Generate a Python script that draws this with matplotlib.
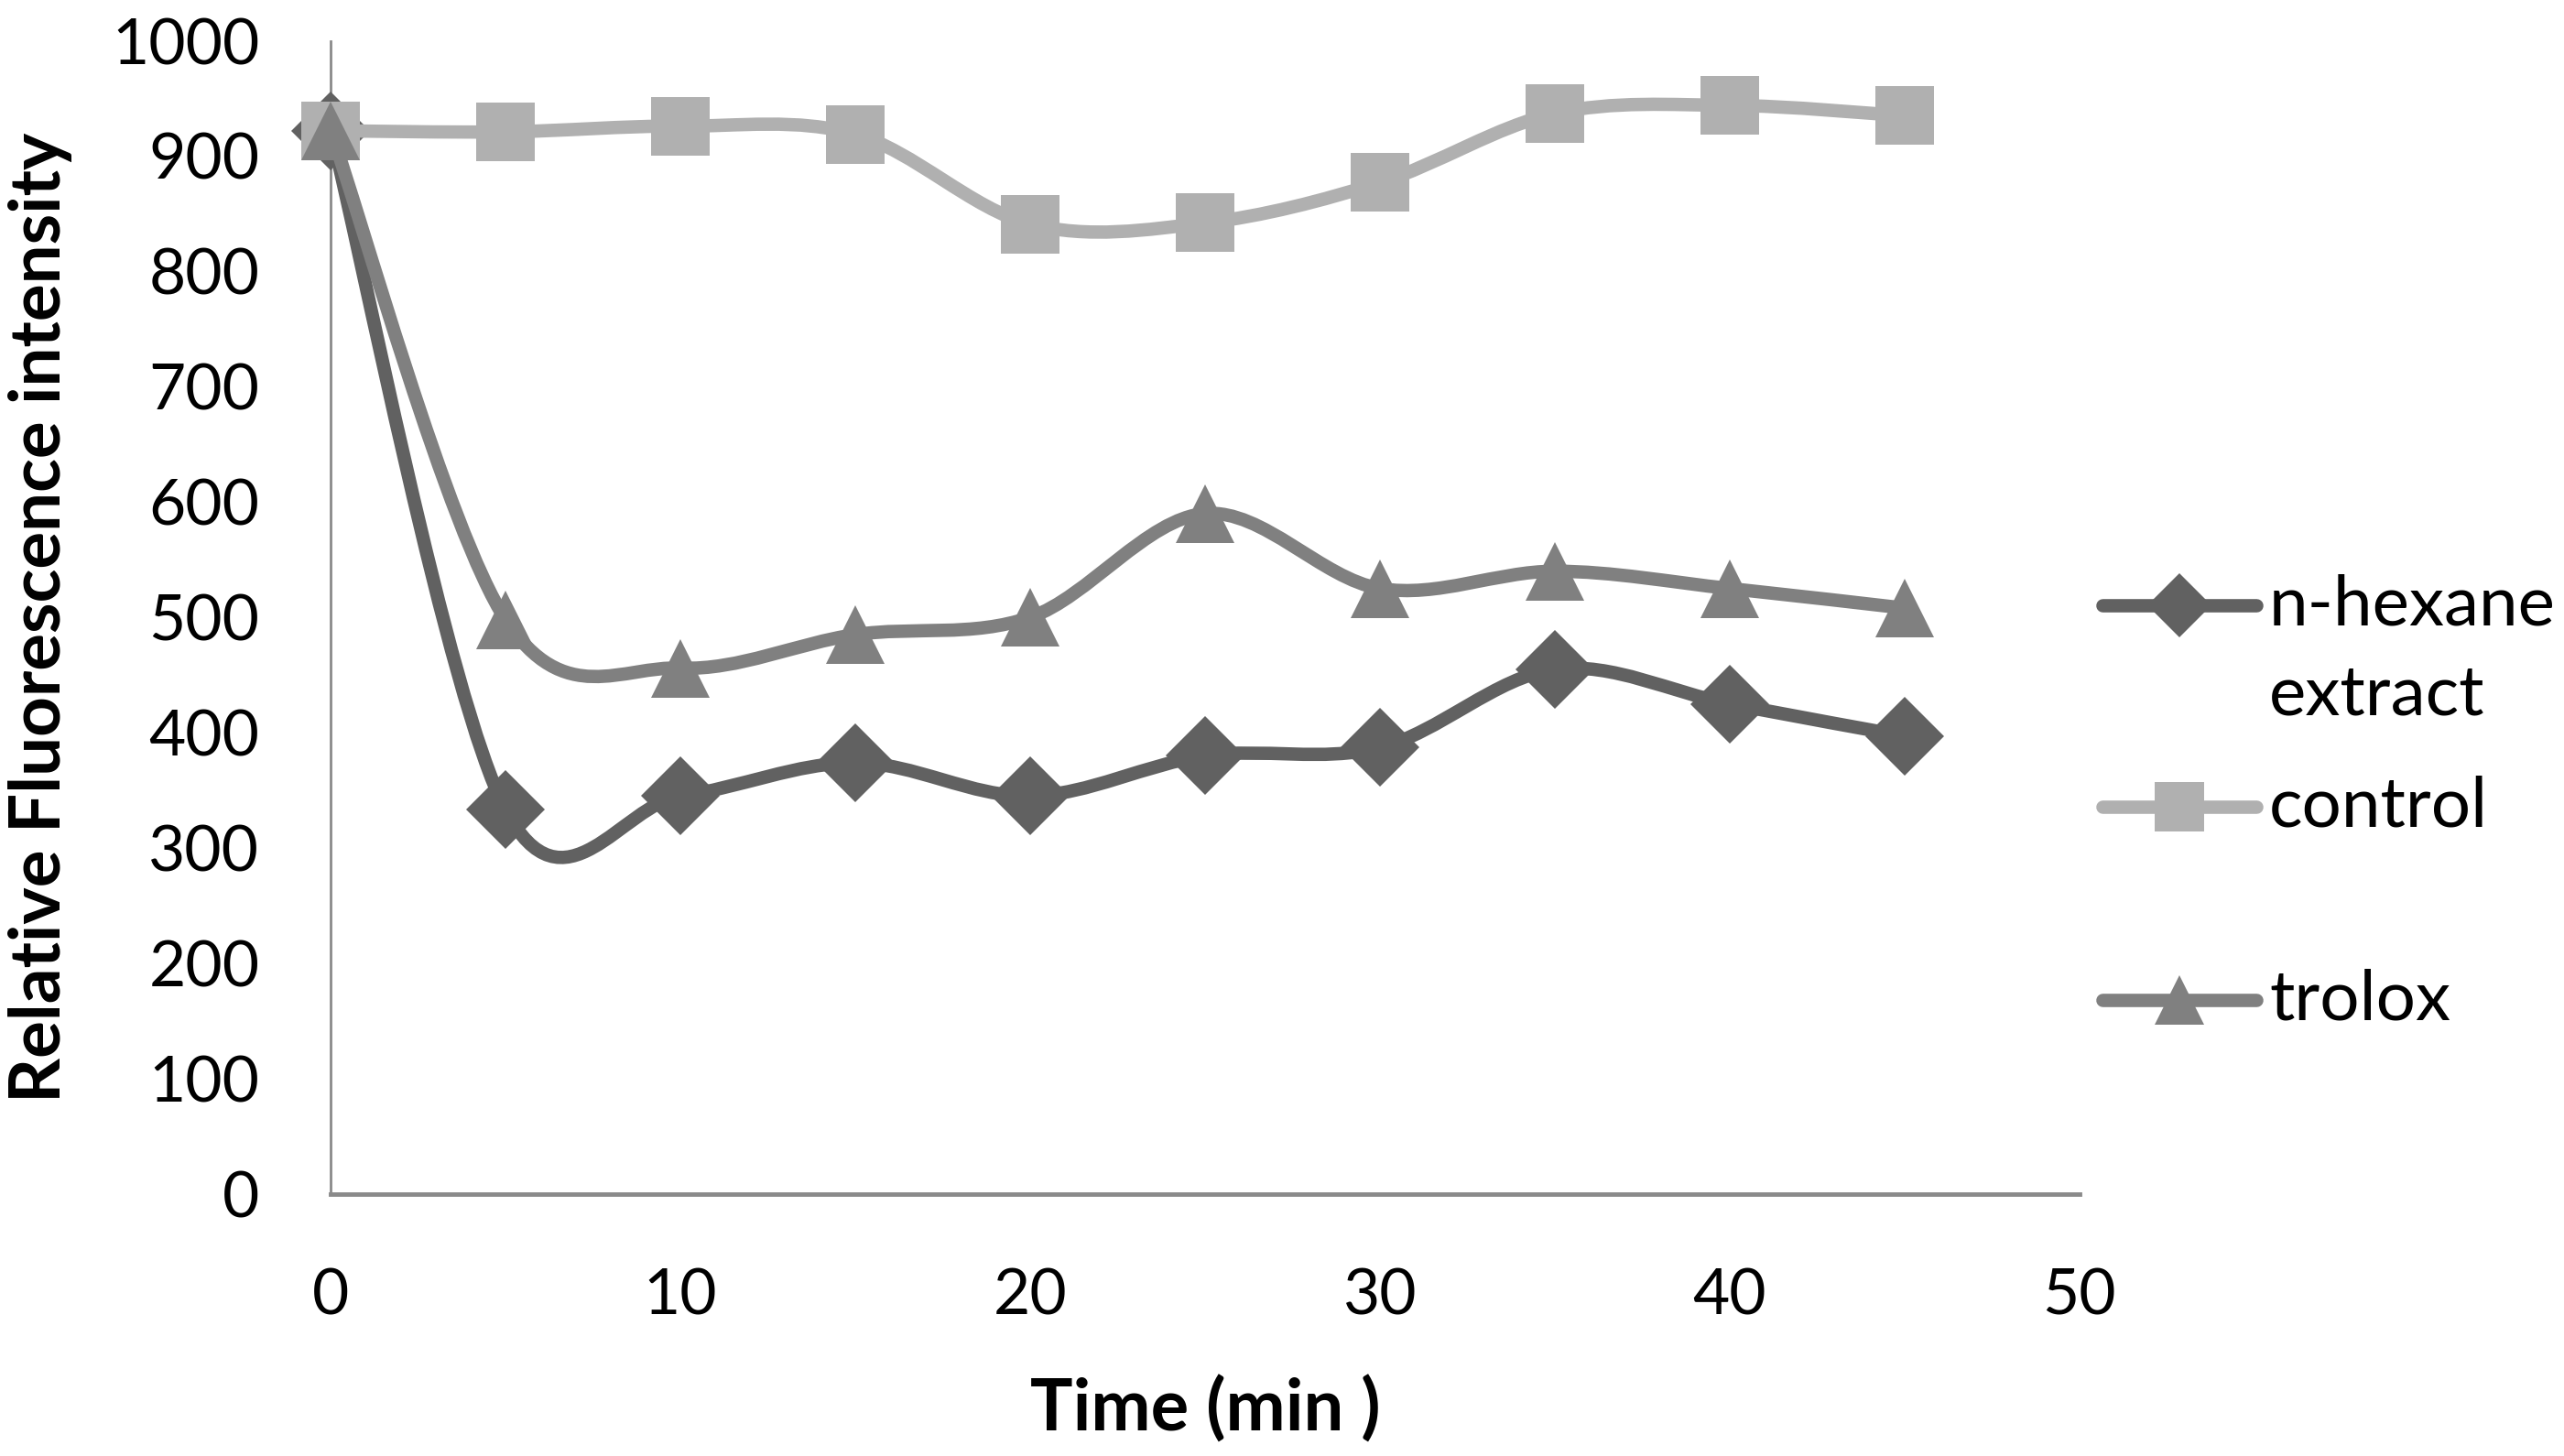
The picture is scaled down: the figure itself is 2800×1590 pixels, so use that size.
import numpy as np
import matplotlib
matplotlib.use("Agg")
import matplotlib.pyplot as plt
from matplotlib.path import Path
from matplotlib.patches import PathPatch
from matplotlib.lines import Line2D

# values
time_min = [0, 5, 10, 15, 20, 25, 30, 35, 40, 45]
hexane = [922, 333, 345, 374, 345, 380, 387, 455, 425, 397]
control = [922, 921, 926, 919, 841, 842, 877, 937, 944, 935]
trolox = [922, 498, 456, 485, 500, 590, 525, 540, 525, 508]

series_names = ["n-hexane\nextract", "control", "trolox"]
series_colors = ["#616161", "#b0b0b0", "#808080"]
series_markers = ["D", "s", "^"]
x_ticks = [0, 10, 20, 30, 40, 50]
y_ticks = [0, 100, 200, 300, 400, 500, 600, 700, 800, 900, 1000]

plt.rcParams['font.family'] = ['Lato', 'DejaVu Sans']


def smooth_path(x, y):
    # Excel-style smoothed line: Catmull-Rom as cubic Bezier segments
    pts = np.column_stack([x, y]).astype(float)
    n = len(pts)
    verts = [pts[0]]
    codes = [Path.MOVETO]
    for i in range(n - 1):
        p0 = pts[i - 1] if i > 0 else pts[i]
        p1 = pts[i]
        p2 = pts[i + 1]
        p3 = pts[i + 2] if i + 2 < n else pts[i + 1]
        c1 = p1 + (p2 - p0) / 6.0
        c2 = p2 - (p3 - p1) / 6.0
        verts += [c1, c2, p2]
        codes += [Path.CURVE4] * 3
    return Path(verts, codes)


fig = plt.figure(figsize=(28, 15.9), dpi=100)
ax = fig.add_axes([0.129, 0.180, 0.682, 0.792])

lw = 10.5
marker_sizes = [44, 46, 46]
all_series = [hexane, control, trolox]
for k, vals in enumerate(all_series):
    patch = PathPatch(smooth_path(time_min, vals), facecolor="none",
                      edgecolor=series_colors[k], lw=lw, capstyle="round",
                      joinstyle="round", zorder=3 + 2 * k)
    ax.add_patch(patch)
    ax.plot(time_min, vals, linestyle="none", marker=series_markers[k],
            markersize=marker_sizes[k], color=series_colors[k],
            markeredgewidth=0, zorder=4 + 2 * k, clip_on=False)

ax.set_xlim(0, 50)
ax.set_ylim(0, 1000)
ax.set_xticks(x_ticks)
ax.set_yticks(y_ticks)
ax.tick_params(axis="both", length=0, labelsize=50, colors="black")
ax.tick_params(axis="x", pad=58)
ax.tick_params(axis="y", pad=56)
for s in ["top", "right"]:
    ax.spines[s].set_visible(False)
ax.spines["left"].set_color("#8a8a8a")
ax.spines["left"].set_linewidth(2)
ax.spines["bottom"].set_color("#8a8a8a")
ax.spines["bottom"].set_linewidth(3.5)

ax.set_xlabel("Time (min )", fontsize=56, fontweight="bold")
ax.set_ylabel("Relative Fluorescence intensity", fontsize=55,
              fontweight="bold")
ax.xaxis.set_label_coords(0.5, -0.158)
ax.yaxis.set_label_coords(-0.148, 0.5)

# legend drawn by hand to keep the Excel-like spacing
legend_y = [0.584, 0.446, 0.313]
line_gap = 0.0616
for k in range(3):
    yy = legend_y[k]
    fig.add_artist(Line2D([0.820, 0.880], [yy, yy], lw=lw,
                          color=series_colors[k], solid_capstyle="round"))
    fig.add_artist(Line2D([0.850], [yy], marker=series_markers[k],
                          markersize=36 if k == 0 else 39,
                          color=series_colors[k], markeredgewidth=0))
    for j, part in enumerate(series_names[k].split("\n")):
        fig.text(0.885, yy - j * line_gap, part, fontsize=55,
                 va="center", ha="left")

fig.savefig("out.png", dpi=100)
